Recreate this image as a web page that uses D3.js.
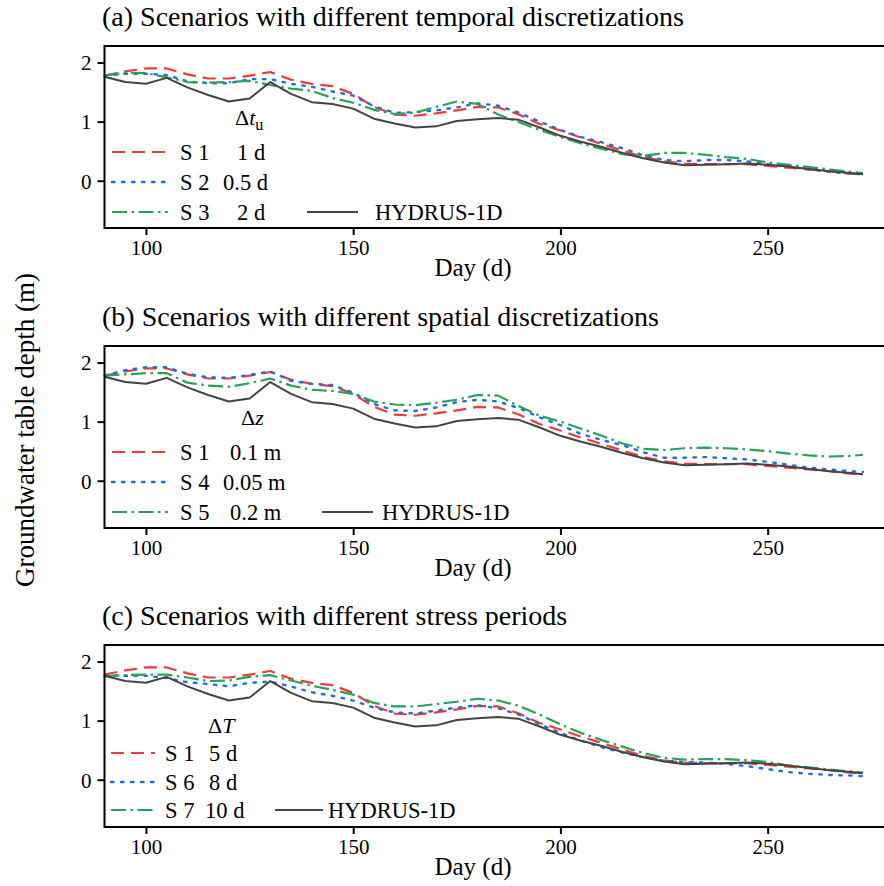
<!DOCTYPE html>
<html>
<head>
<meta charset="utf-8">
<script src="https://cdn.jsdelivr.net/npm/d3@7"></script>
<style>
  body { margin: 0; background: #fff; }
  svg { font-family: 'Liberation Serif', 'Times New Roman', serif; }
</style>
</head>
<body>
<svg id="chart" width="884" height="886"></svg>
<script>
// days of the simulated groundwater table series
const days = [90, 95, 100, 105, 110, 115, 120, 125, 130, 135, 140, 145, 150, 155, 160, 165, 170, 175, 180, 185,
  190, 195, 200, 205, 210, 215, 220, 225, 230, 235, 240, 245, 250, 255, 260, 265, 270, 273]

const hydrus = [1.76, 1.67, 1.64, 1.74, 1.58, 1.45, 1.34, 1.39, 1.67, 1.47, 1.33, 1.30, 1.22, 1.05, 0.97, 0.90, 0.92, 1.01, 1.04, 1.06,
  1.03, 0.90, 0.76, 0.66, 0.57, 0.47, 0.38, 0.31, 0.26, 0.27, 0.28, 0.29, 0.27, 0.24, 0.20, 0.16, 0.13, 0.11]
const s1 = [1.78, 1.85, 1.90, 1.90, 1.80, 1.73, 1.73, 1.78, 1.84, 1.71, 1.64, 1.60, 1.47, 1.25, 1.12, 1.10, 1.14, 1.19, 1.25, 1.24,
  1.12, 0.96, 0.85, 0.73, 0.62, 0.51, 0.40, 0.33, 0.29, 0.28, 0.28, 0.28, 0.25, 0.22, 0.19, 0.16, 0.12, 0.10]
const s2 = [1.78, 1.81, 1.81, 1.79, 1.68, 1.65, 1.65, 1.72, 1.72, 1.64, 1.59, 1.51, 1.44, 1.26, 1.15, 1.16, 1.19, 1.24, 1.31, 1.27,
  1.15, 1.00, 0.86, 0.74, 0.65, 0.55, 0.43, 0.35, 0.33, 0.35, 0.35, 0.33, 0.28, 0.24, 0.19, 0.15, 0.12, 0.11]
const s3 = [1.78, 1.83, 1.82, 1.75, 1.67, 1.66, 1.67, 1.69, 1.62, 1.56, 1.52, 1.40, 1.32, 1.20, 1.13, 1.15, 1.25, 1.34, 1.30, 1.12,
  0.99, 0.86, 0.74, 0.63, 0.54, 0.45, 0.42, 0.47, 0.47, 0.44, 0.40, 0.37, 0.31, 0.27, 0.23, 0.19, 0.15, 0.13]
const s4 = [1.78, 1.87, 1.92, 1.92, 1.81, 1.75, 1.74, 1.79, 1.85, 1.69, 1.64, 1.62, 1.49, 1.30, 1.19, 1.18, 1.24, 1.33, 1.37, 1.34,
  1.23, 1.07, 0.94, 0.79, 0.69, 0.60, 0.48, 0.39, 0.39, 0.40, 0.38, 0.36, 0.32, 0.27, 0.22, 0.19, 0.16, 0.15]
const s5 = [1.78, 1.80, 1.82, 1.82, 1.66, 1.61, 1.59, 1.65, 1.73, 1.61, 1.54, 1.52, 1.47, 1.34, 1.29, 1.28, 1.32, 1.37, 1.45, 1.44,
  1.26, 1.10, 1.00, 0.88, 0.76, 0.63, 0.54, 0.52, 0.55, 0.56, 0.55, 0.53, 0.50, 0.46, 0.43, 0.41, 0.42, 0.44]
const s6 = [1.76, 1.76, 1.76, 1.72, 1.65, 1.62, 1.58, 1.64, 1.66, 1.58, 1.48, 1.42, 1.34, 1.22, 1.14, 1.12, 1.17, 1.22, 1.26, 1.21,
  1.10, 0.94, 0.79, 0.66, 0.55, 0.46, 0.38, 0.32, 0.30, 0.29, 0.27, 0.23, 0.18, 0.13, 0.10, 0.08, 0.07, 0.06]
const s7 = [1.76, 1.77, 1.78, 1.78, 1.73, 1.67, 1.68, 1.74, 1.77, 1.68, 1.59, 1.52, 1.44, 1.30, 1.24, 1.24, 1.28, 1.32, 1.37, 1.34,
  1.25, 1.10, 0.94, 0.79, 0.67, 0.56, 0.45, 0.37, 0.34, 0.35, 0.35, 0.33, 0.30, 0.24, 0.21, 0.17, 0.14, 0.12]

const xTicks = [100, 150, 200, 250]
const yTicks = [0, 1, 2]

const titles = [
  '(a) Scenarios with different temporal discretizations',
  '(b) Scenarios with different spatial discretizations',
  '(c) Scenarios with different stress periods'
]
const namesA = ['S 1', 'S 2', 'S 3']
const valuesA = ['1 d', '0.5 d', '2 d']
const namesB = ['S 1', 'S 4', 'S 5']
const valuesB = ['0.1 m', '0.05 m', '0.2 m']
const namesC = ['S 1', 'S 6', 'S 7']
const valuesC = ['5 d', '8 d', '10 d']

const styles = {
  red: { color: '#ee3b3b', dash: '13,7', width: 2.2 },
  blue: { color: '#1f6fe0', dash: '2.5,7.5', width: 2.4 },
  green: { color: '#27a25a', dash: '15,4.5,2.5,4.5', width: 2.2 },
  black: { color: '#444444', dash: null, width: 2 }
}

const panels = [
  { top: 46, series: [s1, s2, s3], names: namesA, values: valuesA, delta: 'a',
    legX: [112, 168, 180], valX: [237, 223, 237], rows: [106, 136, 166], hyd: [307, 358, 375], deltaPos: [235, 79] },
  { top: 346, series: [s1, s4, s5], names: namesB, values: valuesB, delta: 'b',
    legX: [112, 168, 180], valX: [230, 223, 230], rows: [106, 136, 166], hyd: [322, 373, 382], deltaPos: [241, 79] },
  { top: 645, series: [s1, s6, s7], names: namesC, values: valuesC, delta: 'c',
    legX: [111, 155, 165], valX: [209, 209, 205], rows: [108, 137, 165], hyd: [275, 323, 328], deltaPos: [208, 88] }
]

const svg = d3.select('#chart')
const height = 182
const x = d3.scaleLinear().domain([90, 280]).range([104.5, 892])

function styleLine(sel, st) {
  sel.attr('fill', 'none')
    .attr('stroke', st.color)
    .attr('stroke-width', st.width)
    .attr('stroke-dasharray', st.dash)
    .attr('stroke-linecap', st === styles.blue ? 'round' : 'butt')
    .attr('stroke-linejoin', 'round')
}

panels.forEach((p, pi) => {
  const y = d3.scaleLinear().domain([-0.8, 2.28]).range([p.top + height, p.top])
  const g = svg.append('g')

  g.append('text')
    .attr('x', 102)
    .attr('y', p.top - 20)
    .style('font-size', '28px')
    .text(titles[pi])

  // series: black reference drawn last so coloured lines sit under it
  const line = d3.line().x((d, i) => x(days[i])).y(d => y(d))
  const order = [['red', p.series[0]], ['blue', p.series[1]], ['green', p.series[2]], ['black', hydrus]]
  order.forEach(([k, data]) => {
    g.append('path').datum(data).attr('d', line).call(styleLine, styles[k])
  })

  // frame
  g.append('rect')
    .attr('x', x(90)).attr('y', p.top)
    .attr('width', x(280) - x(90)).attr('height', height)
    .attr('fill', 'none').attr('stroke', '#000').attr('stroke-width', 2)

  const yAxis = d3.axisLeft(y).tickValues(yTicks).tickSize(7).tickSizeOuter(0).tickFormat(d3.format('d'))
  g.append('g').attr('transform', `translate(${x(90)},0)`).call(yAxis)
    .call(a => a.select('.domain').remove())
    .call(a => a.selectAll('line').attr('stroke-width', 2))
    .call(a => a.selectAll('text').style('font-size', '21px').style('font-family', 'Liberation Serif').attr('x', -13).attr('dy', '0.35em'))

  const xAxis = d3.axisBottom(x).tickValues(xTicks).tickSize(7).tickSizeOuter(0)
  g.append('g').attr('transform', `translate(0,${p.top + height})`).call(xAxis)
    .call(a => a.select('.domain').remove())
    .call(a => a.selectAll('line').attr('stroke-width', 2))
    .call(a => a.selectAll('text').style('font-size', '21px').style('font-family', 'Liberation Serif').attr('y', 12))

  g.append('text')
    .attr('x', 473).attr('y', p.top + height + 48)
    .attr('text-anchor', 'middle')
    .style('font-size', '25px')
    .text('Day (d)')

  // legend
  const keys = ['red', 'blue', 'green']
  p.names.forEach((name, i) => {
    const ry = p.top + p.rows[i]
    g.append('path')
      .attr('d', d3.line()([[p.legX[0], ry], [p.legX[1], ry]]))
      .call(styleLine, styles[keys[i]])
    g.append('text')
      .attr('x', p.legX[2]).attr('y', ry + 8)
      .style('font-size', '22.5px')
      .text(name)
    g.append('text')
      .attr('x', p.valX[i]).attr('y', ry + 8)
      .style('font-size', '22.5px')
      .text(p.values[i])
  })
  const hy = p.top + p.rows[2]
  g.append('path')
    .attr('d', d3.line()([[p.hyd[0], hy], [p.hyd[1], hy]]))
    .call(styleLine, styles.black)
  g.append('text')
    .attr('x', p.hyd[2]).attr('y', hy + 8)
    .style('font-size', '22.5px')
    .text('HYDRUS-1D')

  const dt = g.append('text')
    .attr('x', p.deltaPos[0]).attr('y', p.top + p.deltaPos[1])
    .style('font-size', '22px')
  dt.append('tspan').text('Δ')
  if (p.delta === 'a') {
    dt.append('tspan').style('font-style', 'italic').text('t')
    dt.append('tspan').attr('dy', 5).style('font-size', '16px').text('u')
  } else if (p.delta === 'b') {
    dt.append('tspan').style('font-style', 'italic').text('z')
  } else {
    dt.append('tspan').style('font-style', 'italic').text('T')
  }
})

svg.append('text')
  .attr('transform', 'translate(34,430) rotate(-90)')
  .attr('text-anchor', 'middle')
  .style('font-size', '27px')
  .text('Groundwater table depth (m)')
</script>
</body>
</html>
